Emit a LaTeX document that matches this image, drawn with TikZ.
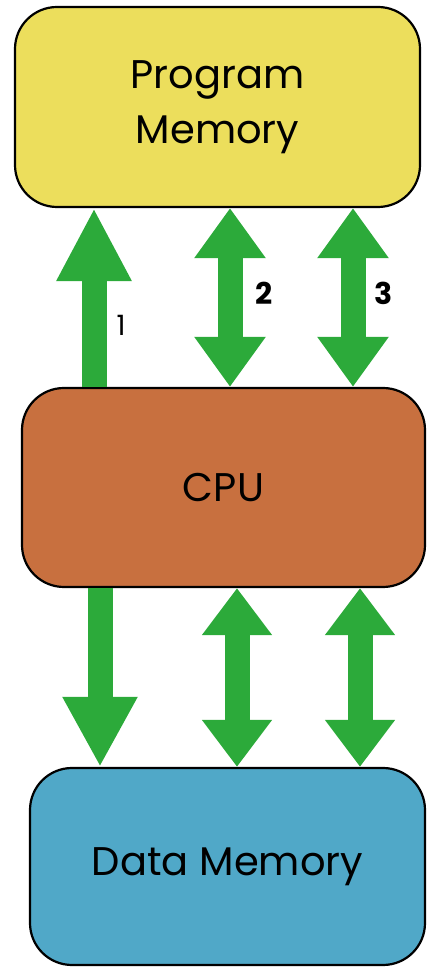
\documentclass[tikz,border=0pt]{standalone}
\usepackage{fontspec}
\setmainfont{Poppins}
\usepackage{tikz}
\usetikzlibrary{shapes, arrows.meta, positioning}

\definecolor{progyellow}{RGB}{236,222,92}
\definecolor{cpubrown}{RGB}{200,112,63}
\definecolor{datablue}{RGB}{80,168,200}
\definecolor{busgreen}{RGB}{44,170,58}

\begin{document}
\begin{tikzpicture}[x=1pt, y=1pt]
        % Styles
        \tikzstyle{block} = [draw, line width=2.2pt, rectangle, rounded corners=42pt, align=center, font=\fontsize{40}{55}\selectfont, inner sep=0pt]
        \tikzstyle{bus} = [line width=25pt, draw=busgreen]
        \tikzstyle{num} = [font=\fontsize{30}{30}\selectfont\bfseries]

        \useasboundingbox (0,0) rectangle (428,969);

        % Nodes
        \node [block, fill=progyellow, minimum width=405pt, minimum height=200pt] (prog) at (217.5,862) {Program\\Memory};
        \node [block, fill=cpubrown, minimum width=403pt, minimum height=199pt] (cpu) at (223.5,481.5) {CPU};
        \node [block, fill=datablue, minimum width=395pt, minimum height=197pt] (data) at (227.5,102.5) {Data Memory};

        % Bus positions
        \coordinate (t1) at (94,0);
        \coordinate (t2) at (230,0);
        \coordinate (t3) at (353,0);
        \coordinate (b1) at (100,0);
        \coordinate (b2) at (237,0);
        \coordinate (b3) at (360,0);

        % Arrows
        \draw [bus, -{Triangle[length=73pt, width=70pt, fill=busgreen]}] (cpu.north -| t1) -- (prog.south -| t1);
        \draw [bus, {Triangle[length=50pt, width=68pt, fill=busgreen]}-{Triangle[length=50pt, width=68pt, fill=busgreen]}] (cpu.north -| t2) -- (prog.south -| t2);
        \draw [bus, {Triangle[length=50pt, width=68pt, fill=busgreen]}-{Triangle[length=50pt, width=68pt, fill=busgreen]}] (cpu.north -| t3) -- (prog.south -| t3);
        \draw [bus, -{Triangle[length=70pt, width=70pt, fill=busgreen]}] (cpu.south -| b1) -- (data.north -| b1);
        \draw [bus, {Triangle[length=47pt, width=67pt, fill=busgreen]}-{Triangle[length=47pt, width=67pt, fill=busgreen]}] (cpu.south -| b2) -- (data.north -| b2);
        \draw [bus, {Triangle[length=47pt, width=67pt, fill=busgreen]}-{Triangle[length=47pt, width=67pt, fill=busgreen]}] (cpu.south -| b3) -- (data.north -| b3);

        % Labels
        \node [font=\fontsize{28}{28}\selectfont] (n1) at (121,644) {1};
        \node [num] (n2) at (264,676) {2};
        \node [num] (n3) at (384,676) {3};
    \end{tikzpicture}
\end{document}
